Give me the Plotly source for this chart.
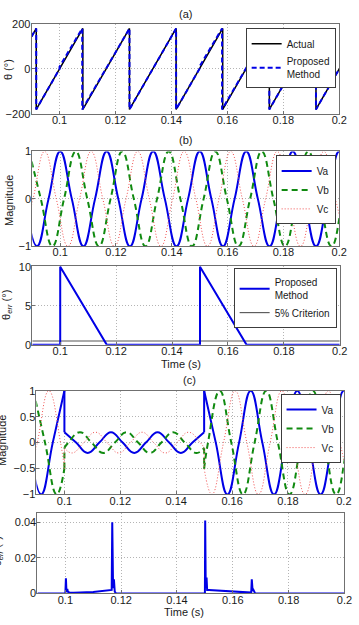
import plotly.graph_objects as go

W, H = 359, 625

# ---------------- data ----------------
# (a) phase angle (deg)
actual_t = [0.09, 0.09167, 0.09167, 0.10833, 0.10833, 0.125, 0.125, 0.14167, 0.14167,
            0.15833, 0.15833, 0.175, 0.175, 0.19167, 0.19167, 0.2]
actual_v = [144, 180, -180, 180, -180, 180, -180, 180, -180, 180, -180, 180, -180, 180, -180, 0]
prop_t = [0.09, 0.09167, 0.09167, 0.1, 0.1, 0.1081, 0.1081, 0.11667, 0.125, 0.125, 0.14167, 0.14167,
          0.15, 0.15, 0.1581, 0.1581, 0.16667, 0.175, 0.175, 0.19167, 0.19167, 0.2]
prop_v = [144, 180, -180, 0, 10, 180, -180, 0, 180, -180, 180, -180, 0, 10, 180, -180, 0,
          180, -180, 180, -180, 0]

# (b) three-phase voltages: knots at peaks / zero crossings
va_t = [0.0875, 0.09167, 0.09583, 0.1, 0.10417, 0.10833, 0.1125, 0.11667, 0.12083, 0.125,
        0.12917, 0.13333, 0.1375, 0.14167, 0.14583, 0.15, 0.15417, 0.15833, 0.1625, 0.16667,
        0.17083, 0.175, 0.17917, 0.18333, 0.1875, 0.19167, 0.19583, 0.2, 0.20417]
va_v = [0, -1, 0, 1, 0, -1, 0, 1, 0, -1, 0, 1, 0, -1, 0, 1, 0, -1, 0, 1, 0, -1, 0, 1, 0, -1, 0, 1, 0]
vb_t = [0.08889, 0.09306, 0.09722, 0.10139, 0.10556, 0.10972, 0.11389, 0.11806, 0.12222, 0.12639,
        0.13056, 0.13472, 0.13889, 0.14306, 0.14722, 0.15139, 0.15556, 0.15972, 0.16389, 0.16806,
        0.17222, 0.17639, 0.18056, 0.18472, 0.18889, 0.19306, 0.19722, 0.20139, 0.20556]
vb_v = [1, 0, -1, 0, 1, 0, -1, 0, 1, 0, -1, 0, 1, 0, -1, 0, 1, 0, -1, 0, 1, 0, -1, 0, 1, 0, -1, 0, 1]
vc_t = [0.08611, 0.09028, 0.09444, 0.09861, 0.10278, 0.10694, 0.11111, 0.11528, 0.11944, 0.12361,
        0.12778, 0.13194, 0.13611, 0.14028, 0.14444, 0.14861, 0.15278, 0.15694, 0.16111, 0.16528,
        0.16944, 0.17361, 0.17778, 0.18194, 0.18611, 0.19028, 0.19444, 0.19861, 0.20278]
vc_v = [-1, 0, 1, 0, -1, 0, 1, 0, -1, 0, 1, 0, -1, 0, 1, 0, -1, 0, 1, 0, -1, 0, 1, 0, -1, 0, 1, 0, -1]

# (b) angle error
err_t = [0.09, 0.1, 0.1, 0.11667, 0.15, 0.15, 0.16667, 0.2]
err_v = [0, 0, 10, 0, 0, 10, 0, 0]
crit_t = [0.09, 0.2]
crit_v = [0.5, 0.5]

# (c) voltages with sag between 0.1 s and 0.15 s (None separates segments)
vca_t = [0.0875, 0.09167, 0.09583, 0.1, None,
         0.1, 0.10417, 0.10833, 0.1125, 0.11667, 0.12083, 0.125, 0.12917, 0.13333, 0.1375,
         0.14167, 0.14583, 0.15, None,
         0.15, 0.15417, 0.15833, 0.1625, 0.16667, 0.17083, 0.175, 0.17917, 0.18333, 0.1875,
         0.19167, 0.19583, 0.2, 0.20417]
vca_v = [0, -1, 0, 1, None,
         0.2, 0, -0.2, 0, 0.2, 0, -0.2, 0, 0.2, 0, -0.2, 0, 0.2, None,
         1, 0, -1, 0, 1, 0, -1, 0, 1, 0, -1, 0, 1, 0]
vcb_t = [0.08889, 0.09306, 0.09722, 0.1, None,
         0.1, 0.10139, 0.10556, 0.10972, 0.11389, 0.11806, 0.12222, 0.12639, 0.13056, 0.13472,
         0.13889, 0.14306, 0.14722, 0.15, None,
         0.15, 0.15139, 0.15556, 0.15972, 0.16389, 0.16806, 0.17222, 0.17639, 0.18056, 0.18472,
         0.18889, 0.19306, 0.19722, 0.20139, 0.20556]
vcb_v = [1, 0, -1, -0.5, None,
         -0.1, 0, 0.2, 0, -0.2, 0, 0.2, 0, -0.2, 0, 0.2, 0, -0.2, -0.1, None,
         -0.5, 0, 1, 0, -1, 0, 1, 0, -1, 0, 1, 0, -1, 0, 1]
vcc_t = [0.08611, 0.09028, 0.09444, 0.09861, 0.1, None,
         0.1, 0.10278, 0.10694, 0.11111, 0.11528, 0.11944, 0.12361, 0.12778, 0.13194, 0.13611,
         0.14028, 0.14444, 0.14861, 0.15, None,
         0.15, 0.15278, 0.15694, 0.16111, 0.16528, 0.16944, 0.17361, 0.17778, 0.18194, 0.18611,
         0.19028, 0.19444, 0.19861, 0.20278]
vcc_v = [-1, 0, 1, 0, -0.5, None,
         -0.1, -0.2, 0, 0.2, 0, -0.2, 0, 0.2, 0, -0.2, 0, 0.2, 0, -0.1, None,
         -0.5, -1, 0, 1, 0, -1, 0, 1, 0, -1, 0, 1, 0, -1]
jump_t = [0.1, 0.1, None, 0.15, 0.15]
ja_v = [1, 0.2, None, 0.2, 1]
jb_v = [-0.5, -0.1, None, -0.1, -0.5]
jc_v = [-0.5, -0.1, None, -0.1, -0.5]

# (c) angle error
e2_t = [0.09, 0.1, 0.1002, 0.1004, 0.1007, 0.1009, 0.1015, 0.103, 0.11, 0.1162, 0.1166, 0.1168,
        0.1171, 0.1174, 0.1177, 0.1182, 0.15, 0.1501, 0.1503, 0.1506, 0.1508, 0.1515, 0.158,
        0.1662, 0.1666, 0.1668, 0.1671, 0.1674, 0.168, 0.2]
e2_v = [0, 0, 0.0085, 0.001, 0.0025, 0.001, 0.0005, 0.0004, 0.0008, 0.002, 0.002, 0.04,
        0.003, 0.008, 0.001, 0, 0, 0.041, 0.003, 0.009, 0.002, 0.002, 0.0012,
        0.0005, 0.0005, 0.008, 0.0015, 0.002, 0, 0]

x_ticks = [0.1, 0.12, 0.14, 0.16, 0.18, 0.2]
x_ticktext = ['0.1', '0.12', '0.14', '0.16', '0.18', '0.2']

# ---------------- styling ----------------
FONT = 'Liberation Sans, Arial, sans-serif'
BLUE = '#0000e6'
GREEN = '#108a10'
RED = '#f05050'
FS = 11
FL = 10


def px(x):
    return x / W


def py(y):
    return 1 - y / H


fig = go.Figure()

# panel (a)
fig.add_trace(go.Scatter(x=actual_t, y=actual_v, mode='lines', name='Actual',
                         line=dict(color='black', width=1.5), xaxis='x', yaxis='y', legend='legend'))
fig.add_trace(go.Scatter(x=prop_t, y=prop_v, mode='lines', name='Proposed<br>Method',
                         line=dict(color=BLUE, width=2, dash='5px,3px'), xaxis='x', yaxis='y',
                         legend='legend'))

# panel (b)
fig.add_trace(go.Scatter(x=va_t, y=va_v, mode='lines', name='Va', line_shape='spline',
                         line=dict(color=BLUE, width=2, smoothing=1.3), xaxis='x2', yaxis='y2',
                         legend='legend2'))
fig.add_trace(go.Scatter(x=vb_t, y=vb_v, mode='lines', name='Vb', line_shape='spline',
                         line=dict(color=GREEN, width=2, dash='6px,4px', smoothing=1.3),
                         xaxis='x2', yaxis='y2', legend='legend2'))
fig.add_trace(go.Scatter(x=vc_t, y=vc_v, mode='lines', name='Vc', line_shape='spline',
                         line=dict(color=RED, width=1, dash='1px,2px', smoothing=1.3),
                         xaxis='x2', yaxis='y2', legend='legend2'))

# panel (b) error
fig.add_trace(go.Scatter(x=crit_t, y=crit_v, mode='lines', name='5% Criterion',
                         line=dict(color='#8c8c8c', width=1.5), xaxis='x3', yaxis='y3',
                         legend='legend3', showlegend=False))
fig.add_trace(go.Scatter(x=err_t, y=err_v, mode='lines', name='Proposed<br>Method',
                         line=dict(color=BLUE, width=2), xaxis='x3', yaxis='y3', legend='legend3'))
fig.add_trace(go.Scatter(x=[None], y=[None], mode='lines', name='5% Criterion',
                         line=dict(color='#404040', width=1), xaxis='x3', yaxis='y3',
                         legend='legend3'))

# panel (c)
fig.add_trace(go.Scatter(x=vca_t, y=vca_v, mode='lines', name='Va', line_shape='spline',
                         line=dict(color=BLUE, width=2, smoothing=1.3), xaxis='x4', yaxis='y4',
                         legend='legend4', legendgroup='a'))
fig.add_trace(go.Scatter(x=vcb_t, y=vcb_v, mode='lines', name='Vb', line_shape='spline',
                         line=dict(color=GREEN, width=2, dash='6px,4px', smoothing=1.3),
                         xaxis='x4', yaxis='y4', legend='legend4', legendgroup='b'))
fig.add_trace(go.Scatter(x=vcc_t, y=vcc_v, mode='lines', name='Vc', line_shape='spline',
                         line=dict(color=RED, width=1, dash='1px,2px', smoothing=1.3),
                         xaxis='x4', yaxis='y4', legend='legend4', legendgroup='c'))
fig.add_trace(go.Scatter(x=jump_t, y=ja_v, mode='lines', showlegend=False, legendgroup='a',
                         line=dict(color=BLUE, width=2), xaxis='x4', yaxis='y4'))
fig.add_trace(go.Scatter(x=jump_t, y=jb_v, mode='lines', showlegend=False, legendgroup='b',
                         line=dict(color=GREEN, width=2, dash='6px,4px'), xaxis='x4', yaxis='y4'))
fig.add_trace(go.Scatter(x=jump_t, y=jc_v, mode='lines', showlegend=False, legendgroup='c',
                         line=dict(color=RED, width=1, dash='1px,2px'), xaxis='x4', yaxis='y4'))

# panel (c) error
fig.add_trace(go.Scatter(x=e2_t, y=e2_v, mode='lines', showlegend=False,
                         line=dict(color=BLUE, width=2), xaxis='x5', yaxis='y5'))

AXC = '#707070'
GRC = '#b4b4b4'


def xax(l, r, anchor):
    return dict(domain=[px(l), px(r)], anchor=anchor, range=[0.09, 0.2],
                tickvals=x_ticks, ticktext=x_ticktext,
                showline=True, mirror=True, linecolor=AXC, linewidth=1,
                ticks='inside', ticklen=3, tickcolor=AXC, ticklabelstandoff=-4,
                showgrid=True, gridcolor=GRC, griddash='1px,2px', gridwidth=1,
                zeroline=False, tickfont=dict(size=FS, color='#1a1a1a', family=FONT))


def yax(t, b, anchor, rng, vals, text):
    return dict(domain=[py(b), py(t)], anchor=anchor, range=rng,
                tickvals=vals, ticktext=text,
                showline=True, mirror=True, linecolor=AXC, linewidth=1,
                ticks='inside', ticklen=3, tickcolor=AXC, ticklabelstandoff=-2,
                showgrid=True, gridcolor=GRC, griddash='1px,2px', gridwidth=1,
                zeroline=False, tickfont=dict(size=FS, color='#1a1a1a', family=FONT))


M = '\u2212'

legend_common = dict(bgcolor='white', bordercolor='#3c3c3c', borderwidth=1,
                     font=dict(size=FL, family=FONT, color='#1a1a1a'), tracegroupgap=0,
                     xanchor='right', yanchor='top', itemwidth=30)


def ann(x, y, text, angle=0):
    return dict(x=px(x), y=py(y), xref='paper', yref='paper', text=text, showarrow=False,
                textangle=angle, xanchor='center', yanchor='middle',
                font=dict(size=FS, family=FONT, color='#1a1a1a'))


theta_err = '\u03b8<sub><i>err</i></sub> (\u00b0)'

fig.update_layout(
    width=W, height=H, margin=dict(l=0, r=0, t=0, b=0),
    paper_bgcolor='white', plot_bgcolor='white',
    font=dict(family=FONT, size=FS, color='#1a1a1a'),
    xaxis=xax(32.3, 347, 'y'),
    yaxis=yax(18.3, 110, 'x', [-200, 200], [-200, 0, 200], [M + '200', '0', '200']),
    xaxis2=xax(33, 347, 'y2'),
    yaxis2=yax(148.3, 245, 'x2', [-1, 1], [-1, 0, 1], [M + '1', '0', '1']),
    xaxis3=xax(33, 347.5, 'y3'),
    yaxis3=yax(265, 345.5, 'x3', [0, 10.1], [0, 5, 10], ['0', '5', '10']),
    xaxis4=xax(37.3, 351.7, 'y4'),
    yaxis4=yax(392.3, 498, 'x4', [-1, 1], [-1, -0.5, 0, 0.5, 1],
               [M + '1', M + '0.5', '0', '0.5', '1']),
    xaxis5=xax(38.3, 352.3, 'y5'),
    yaxis5=yax(517.3, 599, 'x5', [0, 0.045], [0, 0.02, 0.04], ['0', '0.02', '0.04']),
    legend=dict(x=px(343.3), y=py(22.7), **legend_common),
    legend2=dict(x=px(343.3), y=py(152.3), **legend_common),
    legend3=dict(x=px(344.3), y=py(267.3), **legend_common),
    legend4=dict(x=px(348.3), y=py(395.7), **legend_common),
    annotations=[
        ann(190, 7.7, '(a)'),
        ann(190, 136.7, '(b)'),
        ann(194, 381.7, '(c)'),
        ann(185, 365, 'Time (s)'),
        ann(188, 618, 'Time (s)'),
        ann(7.5, 65, '\u03b8 (\u00b0)', -90),
        ann(9, 198, 'Magnitude', -90),
        ann(7, 305, theta_err, -90),
        ann(2.5, 443, 'Magnitude', -90),
        ann(-2, 556, theta_err, -90),
    ],
)

fig.write_html('out.html')
